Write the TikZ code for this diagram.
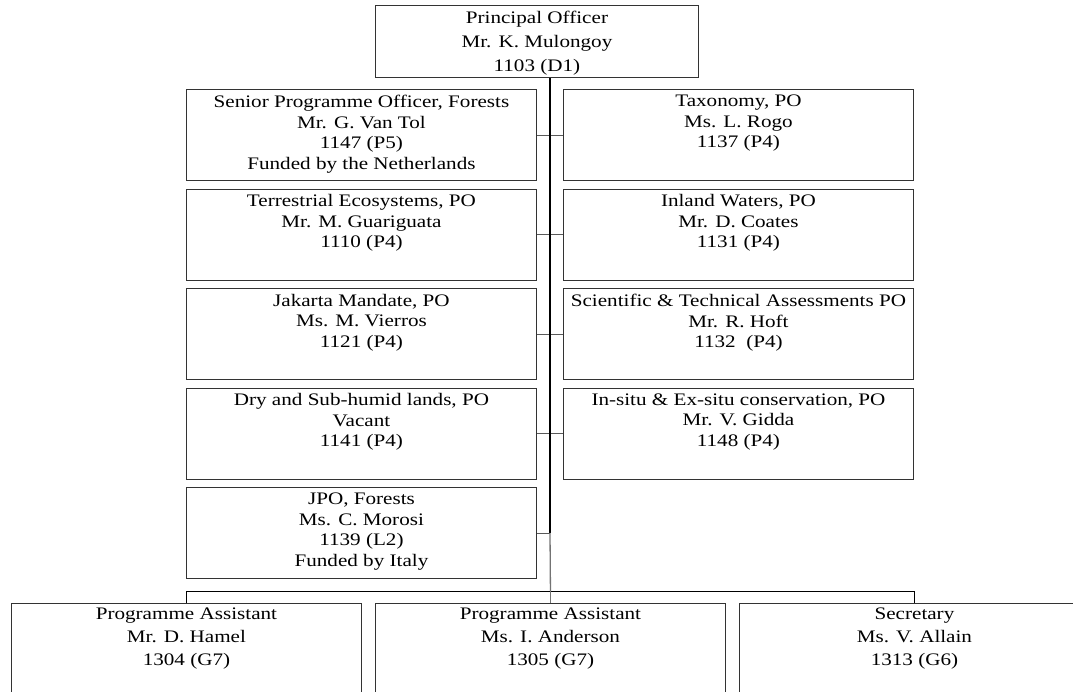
\documentclass[tikz,border=0pt]{standalone}
\usepackage{fontspec}
\setmainfont[FakeStretch=1.2]{Liberation Serif}
\usepackage{tikz}
\usetikzlibrary{positioning}

\tikzset{
  post/.style={draw=black!80,line width=0.9pt,anchor=north west,
    minimum width=350pt,minimum height=91pt,inner sep=0pt},
  txt/.style={draw=none,anchor=north,yshift=-6pt,align=center,inner sep=0pt,
    minimum width=0pt,minimum height=0pt,
    font=\fontsize{17.6}{#1}\selectfont},
  txt/.default=20.5,
  link/.style={draw=black!65,line width=0.8pt},
  stub/.style={draw=black!55,line width=1.3pt},
  trunk/.style={draw=black,line width=2pt},
  bar/.style={draw=black,line width=0.9pt}
}

\begin{document}
\begin{tikzpicture}[x=1pt,y=-1pt]
\useasboundingbox (0,0) rectangle (1073,691);
\clip (0,0) rectangle (1073,691);
% head
\node[post,minimum width=323pt,minimum height=72pt,
  label={[txt=24]north:{Principal Officer\\Mr. K. Mulongoy\\1103 (D1)}}] (top) at (375,5) {};
% left column
\node[post,label={[txt]north:{Senior Programme Officer, Forests\\Mr. G. Van Tol\\1147 (P5)\\Funded by the Netherlands}}] (sen) at (186,89) {};
\node[post,label={[txt]north:{Terrestrial Ecosystems, PO\\Mr. M. Guariguata\\1110 (P4)}}] (ter) at (186,188.5) {};
\node[post,label={[txt]north:{Jakarta Mandate, PO\\Ms. M. Vierros\\1121 (P4)}}] (jak) at (186,288) {};
\node[post,label={[txt]north:{Dry and Sub-humid lands, PO\\Vacant\\1141 (P4)}}] (dry) at (186,387.5) {};
\node[post,label={[txt]north:{JPO, Forests\\Ms. C. Morosi\\1139 (L2)\\Funded by Italy}}] (jpo) at (186,487) {};
% right column
\node[post,label={[txt]north:{Taxonomy, PO\\Ms. L. Rogo\\1137 (P4)}}] (tax) at (563,89) {};
\node[post,label={[txt]north:{Inland Waters, PO\\Mr. D. Coates\\1131 (P4)}}] (inl) at (563,188.5) {};
\node[post,label={[txt]north:{Scientific \& Technical Assessments PO\\Mr. R. Hoft\\1132\ \ (P4)}}] (sci) at (563,288) {};
\node[post,label={[txt]north:{In-situ \& Ex-situ conservation, PO\\Mr. V. Gidda\\1148 (P4)}}] (ins) at (563,387.5) {};
% support staff
\node[post,label={[txt=23,yshift=1pt]north:{Programme Assistant\\Mr. D. Hamel\\1304 (G7)}}] (pa1) at (11,603) {};
\node[post,label={[txt=23,yshift=1pt]north:{Programme Assistant\\Ms. I. Anderson\\1305 (G7)}}] (pa2) at (375,603) {};
\node[post,label={[txt=23,yshift=1pt]north:{Secretary\\Ms. V. Allain\\1313 (G6)}}] (sec) at (739,603) {};

\coordinate (stem) at (550,0);
\coordinate (bus) at (550,591);
\draw[link] (sen.east)--(tax.west) (ter.east)--(inl.west)
  (jak.east)--(sci.west) (dry.east)--(ins.west) (jpo.east)--(jpo.east-|stem);
\draw[trunk] (top.south-|stem)--(jpo.east-|stem);
\draw[stub] (jpo.east-|stem)--(bus-|pa2.north);
\draw[bar] (pa1.north)|-(bus)-|(sec.north);
\draw[stub] (bus-|pa2.north)--(pa2.north);
\end{tikzpicture}
\end{document}
